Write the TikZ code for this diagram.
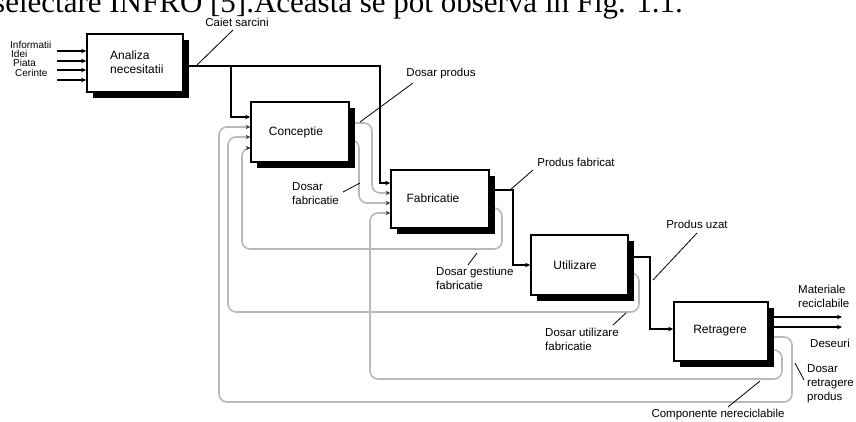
\documentclass[tikz,border=0pt]{standalone}
\usepackage{fontspec}
\setmainfont{Liberation Sans}
\newfontfamily\serifone{Liberation Serif}
\usetikzlibrary{arrows.meta,shadows,backgrounds}
\begin{document}
\begin{tikzpicture}[x=1pt,y=-1pt,
  box/.style={draw,line width=1.6pt,fill=white,inner sep=0pt,
    drop shadow={shadow xshift=6pt,shadow yshift=-6pt,fill=black,opacity=1}},
  boxtxt/.style={inner sep=0pt,font=\fontsize{12}{14}\selectfont,align=left},
  lbl/.style={inner sep=0pt,font=\fontsize{11.5}{14}\selectfont,align=left},
  inlbl/.style={inner sep=0pt,font=\fontsize{10}{10}\selectfont,anchor=west},
  blk/.style={line width=1.4pt,black},
  blkarr/.style={blk,-{Stealth[length=5pt,width=4.5pt]}},
  gry/.style={line width=1.6pt,gray!55,rounded corners=8pt,
    -{Stealth[length=4.5pt,width=4.5pt,color=black!80]}},
  lead/.style={line width=0.8pt,black}]
\useasboundingbox (0,0) rectangle (856,421);
\begin{scope}
\clip (0,0) rectangle (856,421);
\node[inner sep=0pt,anchor=base west,font=\serifone\fontsize{31}{31}\selectfont] (toptext) at (-7,12.5) {selectare INFRO [5].Aceasta se pot observa in Fig. 1.1.};
\end{scope}

% boxes
\node[box,minimum width=96pt,minimum height=58pt] (ana) at (135,63) {};
\node[box,minimum width=98pt,minimum height=60pt] (con) at (300,132) {};
\node[box,minimum width=98pt,minimum height=58pt] (fab) at (440,199) {};
\node[box,minimum width=97pt,minimum height=60pt] (util) at (579.5,265) {};
\node[box,minimum width=94pt,minimum height=59pt] (ret) at (721,331.5) {};

\node[boxtxt,anchor=west] (anat) at (110,62) {Analiza\\necesitatii};
\node[boxtxt] (cont) at (296,132) {Conceptie};
\node[boxtxt] (fabt) at (433,198) {Fabricatie};
\node[boxtxt] (utilt) at (575,265) {Utilizare};
\node[boxtxt] (rett) at (720,331) {Retragere};

% input labels
\node[inlbl] (li1) at (10,45) {Informatii};
\node[inlbl] (li2) at (11,54) {Idei};
\node[inlbl] (li3) at (13,63) {Piata};
\node[inlbl] (li4) at (15,72.5) {Cerinte};
\coordinate (i1) at (57,51);
\coordinate (i2) at (57,61);
\coordinate (i3) at (57,70);
\coordinate (i4) at (57,80);

% labels
\node[lbl] (caiet) at (237,22) {Caiet sarcini};
\node[lbl] (dprod) at (441,74) {Dosar produs};
\node[lbl,anchor=west] (dfab) at (292,194) {Dosar\\fabricatie};
\node[lbl,anchor=west] (dgest) at (436,278.5) {Dosar gestiune\\fabricatie};
\node[lbl] (pfab) at (576,162) {Produs fabricat};
\node[lbl] (puzat) at (697,224) {Produs uzat};
\node[lbl,anchor=west] (dutil) at (545,339.5) {Dosar utilizare\\fabricatie};
\node[lbl,anchor=west] (dret) at (807,383.5) {Dosar\\retragere\\produs};
\node[lbl] (comp) at (718,415) {Componente nereciclabile};
\node[lbl,anchor=west] (mat) at (798,296) {Materiale\\reciclabile};
\node[lbl,anchor=west] (des) at (810,343) {Deseuri};

% leader end points
\coordinate (caietA) at (233,30);  \coordinate (caietB) at (197,65);
\coordinate (dprodA) at (413,83);  \coordinate (dprodB) at (360,122);
\coordinate (dfabA) at (343,192);  \coordinate (dfabB) at (360,183);
\coordinate (dgestA) at (468,265); \coordinate (dgestB) at (477,253);
\coordinate (pfabA) at (533,170);  \coordinate (pfabB) at (510,190);
\coordinate (puzatA) at (697,233); \coordinate (puzatB) at (653,280);
\coordinate (dutilA) at (613,325); \coordinate (dutilB) at (626,313);
\coordinate (dretA) at (804,380);  \coordinate (dretB) at (795,363);
\coordinate (compA) at (728,407);  \coordinate (compB) at (760,381);
\coordinate (out1) at (842,317);
\coordinate (out2) at (842,327);

\begin{pgfonlayer}{background}
% grey feedback loops
\draw[gry] (fab.east |- 0,208) -- (502,208) -- (502,249) -- (242,249) -- (242,148) -- (con.west |- 0,148);
\draw[gry] (util.east |- 0,273) -- (639,273) -- (639,312) -- (228,312) -- (228,137) -- (con.west |- 0,137);
\draw[gry] (ret.east |- 0,350) -- (782,350) -- (782,379) -- (370,379) -- (370,213) -- (fab.west |- 0,213);
\draw[gry] (ret.east |- 0,337) -- (792,337) -- (792,402) -- (219,402) -- (219,127) -- (con.west |- 0,127);
\draw[gry] (con.east |- 0,123) -- (372,123) -- (372,193) -- (fab.west |- 0,193);
\draw[gry] (con.east |- 0,140) -- (359,140) -- (359,203) -- (fab.west |- 0,203);

% black flows
\foreach \i in {1,2,3,4} { \draw[blkarr] (i\i) -- (ana.west |- i\i); }
\draw[blkarr] (ana.east |- 0,66) -- (380,66) -- (380,183) -- (fab.west |- 0,183);
\draw[blkarr] (231,66) -- (231,117) -- (con.west |- 0,117);
\draw[blkarr] (fab.east |- 0,190) -- (513,190) -- (513,265) -- (util.west |- 0,265);
\draw[blkarr] (util.east |- 0,257) -- (650,257) -- (650,329) -- (ret.west |- 0,329);
\draw[blkarr] (ret.east |- out1) -- (out1);
\draw[blkarr] (ret.east |- out2) -- (out2);
\end{pgfonlayer}

% leaders
\draw[lead] (caietA) -- (caietB);
\draw[lead] (dprodA) -- (dprodB);
\draw[lead] (dfabA) -- (dfabB);
\draw[lead] (dgestA) -- (dgestB);
\draw[lead] (pfabA) -- (pfabB);
\draw[lead] (puzatA) -- (puzatB);
\draw[lead] (dutilA) -- (dutilB);
\draw[lead] (dretA) -- (dretB);
\draw[lead] (compA) -- (compB);
\end{tikzpicture}
\end{document}
